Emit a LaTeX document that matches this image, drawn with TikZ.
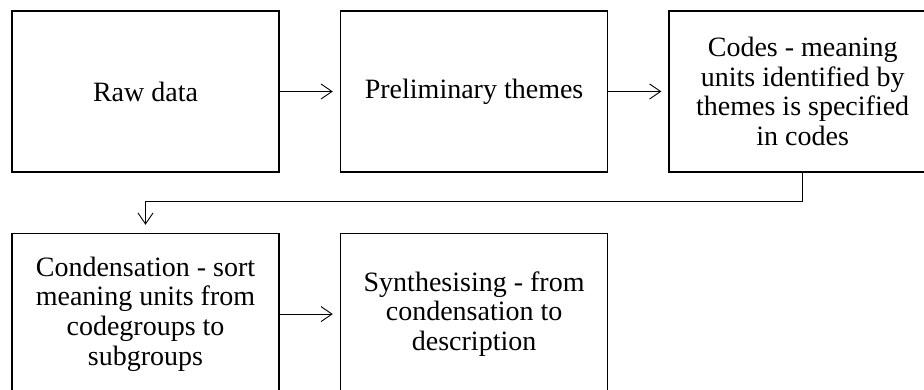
\documentclass[tikz,border=0pt]{standalone}
\usepackage{fontspec}
\setmainfont{Liberation Serif}
\usepackage{tikz}
\usetikzlibrary{arrows.meta,positioning}
\tikzset{
  stagebox/.style={draw, line width=1.6pt, minimum width=267pt, minimum height=161pt,
    inner sep=0pt, align=center, font=\fontsize{28}{29.6}\selectfont},
  flowarrow/.style={-{Straight Barb[length=11pt,width=15pt,line width=0.9pt]}, line width=0.9pt}
}

\begin{document}
\begin{tikzpicture}[x=1pt, y=1pt, node distance=60pt and 60pt]
    \useasboundingbox (0,0) rectangle (924,390);
    \node[stagebox] (raw) at (145.5,298.5) {Raw data};
    \node[stagebox, right=of raw] (prelim) {Preliminary themes};
    \node[stagebox, right=of prelim] (codes) {Codes - meaning\\units identified by\\themes is specified\\in codes};
    \node[stagebox, below=of raw] (cond) {Condensation - sort\\meaning units from\\codegroups to\\subgroups};
    \node[stagebox, right=of cond] (synth) {Synthesising - from\\condensation to\\description};
    \coordinate (turn) at (0,189);
    \draw[flowarrow, shorten >=7pt] (raw.east) -- (prelim.west);
    \draw[flowarrow, shorten >=7pt] (prelim.east) -- (codes.west);
    \draw[flowarrow, shorten >=8pt] (codes.south) |- (turn -| cond.north) -- (cond.north);
    \draw[flowarrow, shorten >=7pt] (cond.east) -- (synth.west);
  \end{tikzpicture}
\end{document}
